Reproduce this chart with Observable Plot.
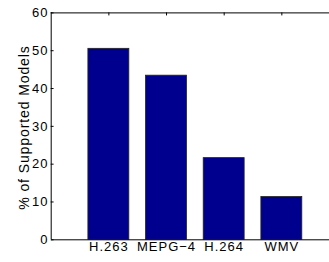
<!DOCTYPE html>
<html>
<head>
<meta charset="utf-8">
<script src="https://cdn.jsdelivr.net/npm/d3@7"></script>
<script src="https://cdn.jsdelivr.net/npm/@observablehq/plot@0.6"></script>
<style>
  html, body { margin: 0; padding: 0; background: #fff; overflow: hidden; }
  #chart { width: 329px; height: 262px; overflow: hidden; }
  #chart svg { font-family: 'Liberation Sans', Arial, sans-serif; color: #000; }
  .tl text { letter-spacing: 1px; }
  .yl text { letter-spacing: 0.9px; }
</style>
</head>
<body>
<div id="chart"></div>
<script>
const categories = ["H.263", "MEPG\u22124", "H.264", "WMV"];
const percents = [50.5, 43.4, 21.6, 11.3];
const yTicks = [0, 10, 20, 30, 40, 50, 60];
const positions = [1, 2, 3, 4];
const yLabel = "% of Supported Models";

const data = categories.map((c, i) => ({ name: c, pos: positions[i], value: percents[i] }));
const half = 0.355;

const chart = Plot.plot({
  width: 329,
  height: 262,
  marginLeft: 51,
  marginRight: 0,
  marginTop: 12,
  marginBottom: 23,
  x: { domain: [0, 5], range: [50.7, 339] },
  y: { domain: [0, 60], range: [239.3, 12.4] },
  marks: [
    Plot.rect(data, {
      x1: d => d.pos - half, x2: d => d.pos + half,
      y1: 0, y2: "value",
      fill: "#00008f", stroke: "#222", strokeWidth: 0.8
    }),
    Plot.ruleY([0], { stroke: "#000" }),
    Plot.ruleY([60], { stroke: "#000" }),
    Plot.ruleX([0], { stroke: "#000" }),
    Plot.ruleY(yTicks, { x1: 0, x2: 0.05, stroke: "#000" }),
    Plot.ruleX(positions, { y1: 60, y2: 59.2, stroke: "#000" }),
    Plot.axisY({ ticks: yTicks, tickSize: 0, tickPadding: 4, label: null, fontSize: 13, className: "tl", dx: 1 }),
    Plot.axisX({ ticks: positions, tickFormat: i => categories[i - 1], tickSize: 0, tickPadding: 2, label: null, fontSize: 13, className: "tl" }),
    Plot.text([yLabel], {
      frameAnchor: "left", dx: -26.5, dy: 1.5, rotate: -90, fontSize: 14, textAnchor: "middle",
      text: d => d, className: "yl"
    })
  ]
});
document.getElementById("chart").appendChild(chart);
</script>
</body>
</html>
